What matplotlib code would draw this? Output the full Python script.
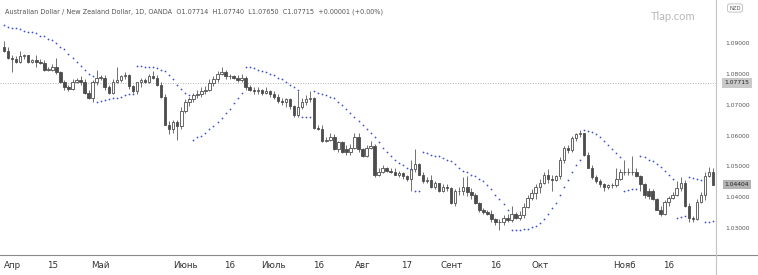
import matplotlib
matplotlib.use("Agg")
import matplotlib.pyplot as plt
import numpy as np
import pandas as pd


START_DATE = "2021-03-30"

open_ = [
    1.0887, 1.0874, 1.0854, 1.0851, 1.0841, 1.0858, 1.0861, 1.0841, 1.0845, 1.0841,
    1.0838, 1.0815, 1.0815, 1.0825, 1.0806, 1.0773, 1.0757, 1.0753, 1.0776, 1.0780,
    1.0776, 1.0740, 1.0724, 1.0773, 1.0789, 1.0789, 1.0757, 1.0740, 1.0776, 1.0780,
    1.0793, 1.0796, 1.0760, 1.0744, 1.0773, 1.0780, 1.0776, 1.0793, 1.0789, 1.0766,
    1.0727, 1.0636, 1.0620, 1.0643, 1.0630, 1.0679, 1.0708, 1.0718, 1.0731, 1.0737,
    1.0744, 1.0750, 1.0770, 1.0783, 1.0802, 1.0806, 1.0793, 1.0793, 1.0789, 1.0780,
    1.0786, 1.0757, 1.0750, 1.0744, 1.0747, 1.0740, 1.0744, 1.0734, 1.0727, 1.0714,
    1.0708, 1.0718, 1.0695, 1.0666, 1.0692, 1.0708, 1.0718, 1.0721, 1.0626, 1.0623,
    1.0584, 1.0587, 1.0597, 1.0555, 1.0578, 1.0555, 1.0545, 1.0561, 1.0597, 1.0555,
    1.0535, 1.0561, 1.0565, 1.0470, 1.0483, 1.0493, 1.0486, 1.0483, 1.0473, 1.0477,
    1.0467, 1.0457, 1.0490, 1.0506, 1.0473, 1.0451, 1.0454, 1.0431, 1.0444, 1.0421,
    1.0434, 1.0428, 1.0382, 1.0418, 1.0418, 1.0431, 1.0415, 1.0408, 1.0382, 1.0356,
    1.0350, 1.0346, 1.0327, 1.0317, 1.0317, 1.0333, 1.0324, 1.0343, 1.0333, 1.0340,
    1.0366, 1.0398, 1.0412, 1.0431, 1.0447, 1.0473, 1.0457, 1.0454, 1.0467, 1.0522,
    1.0558, 1.0552, 1.0591, 1.0604, 1.0607, 1.0538, 1.0496, 1.0464, 1.0451, 1.0441,
    1.0434, 1.0438, 1.0438, 1.0460, 1.0480, 1.0483, 1.0480, 1.0483, 1.0467, 1.0441,
    1.0421, 1.0418, 1.0392, 1.0359, 1.0343, 1.0385, 1.0398, 1.0408, 1.0428, 1.0447,
    1.0369, 1.0330, 1.0327, 1.0385, 1.0408, 1.0467, 1.0480,
]
high = [
    1.0907, 1.0887, 1.0861, 1.0858, 1.0874, 1.0867, 1.0864, 1.0851, 1.0864, 1.0848,
    1.0845, 1.0825, 1.0832, 1.0854, 1.0812, 1.0780, 1.0766, 1.0783, 1.0789, 1.0793,
    1.0783, 1.0747, 1.0780, 1.0815, 1.0799, 1.0796, 1.0766, 1.0783, 1.0825, 1.0799,
    1.0806, 1.0802, 1.0766, 1.0776, 1.0789, 1.0789, 1.0802, 1.0809, 1.0796, 1.0773,
    1.0734, 1.0646, 1.0652, 1.0652, 1.0692, 1.0718, 1.0727, 1.0740, 1.0747, 1.0757,
    1.0760, 1.0783, 1.0793, 1.0812, 1.0822, 1.0815, 1.0802, 1.0799, 1.0796, 1.0802,
    1.0793, 1.0766, 1.0757, 1.0757, 1.0753, 1.0757, 1.0750, 1.0744, 1.0734, 1.0724,
    1.0724, 1.0724, 1.0701, 1.0744, 1.0724, 1.0731, 1.0744, 1.0727, 1.0636, 1.0633,
    1.0594, 1.0607, 1.0604, 1.0584, 1.0581, 1.0568, 1.0571, 1.0607, 1.0610, 1.0561,
    1.0568, 1.0581, 1.0571, 1.0496, 1.0503, 1.0499, 1.0493, 1.0493, 1.0486, 1.0483,
    1.0473, 1.0522, 1.0555, 1.0512, 1.0483, 1.0464, 1.0470, 1.0451, 1.0447, 1.0441,
    1.0441, 1.0434, 1.0425, 1.0431, 1.0464, 1.0467, 1.0428, 1.0412, 1.0385, 1.0363,
    1.0359, 1.0356, 1.0333, 1.0327, 1.0340, 1.0343, 1.0369, 1.0350, 1.0353, 1.0379,
    1.0408, 1.0425, 1.0441, 1.0457, 1.0483, 1.0490, 1.0473, 1.0473, 1.0529, 1.0565,
    1.0568, 1.0600, 1.0610, 1.0617, 1.0610, 1.0545, 1.0503, 1.0470, 1.0457, 1.0447,
    1.0441, 1.0444, 1.0496, 1.0490, 1.0522, 1.0496, 1.0532, 1.0493, 1.0473, 1.0447,
    1.0428, 1.0425, 1.0398, 1.0369, 1.0389, 1.0402, 1.0415, 1.0451, 1.0464, 1.0454,
    1.0382, 1.0337, 1.0392, 1.0415, 1.0480, 1.0499, 1.0493,
]
low = [
    1.0871, 1.0851, 1.0806, 1.0835, 1.0838, 1.0851, 1.0838, 1.0835, 1.0825, 1.0832,
    1.0812, 1.0809, 1.0809, 1.0802, 1.0770, 1.0750, 1.0744, 1.0750, 1.0770, 1.0766,
    1.0734, 1.0718, 1.0711, 1.0766, 1.0780, 1.0750, 1.0737, 1.0734, 1.0770, 1.0773,
    1.0783, 1.0753, 1.0740, 1.0734, 1.0757, 1.0770, 1.0770, 1.0783, 1.0760, 1.0721,
    1.0633, 1.0604, 1.0610, 1.0587, 1.0623, 1.0672, 1.0698, 1.0708, 1.0721, 1.0727,
    1.0734, 1.0744, 1.0763, 1.0776, 1.0796, 1.0783, 1.0783, 1.0783, 1.0773, 1.0776,
    1.0750, 1.0744, 1.0734, 1.0737, 1.0731, 1.0734, 1.0727, 1.0718, 1.0705, 1.0701,
    1.0692, 1.0688, 1.0659, 1.0659, 1.0685, 1.0701, 1.0711, 1.0623, 1.0617, 1.0578,
    1.0578, 1.0581, 1.0552, 1.0548, 1.0542, 1.0538, 1.0538, 1.0555, 1.0548, 1.0529,
    1.0529, 1.0555, 1.0464, 1.0467, 1.0477, 1.0480, 1.0477, 1.0470, 1.0464, 1.0460,
    1.0451, 1.0418, 1.0483, 1.0470, 1.0447, 1.0444, 1.0428, 1.0425, 1.0415, 1.0415,
    1.0418, 1.0376, 1.0372, 1.0408, 1.0405, 1.0402, 1.0395, 1.0376, 1.0350, 1.0343,
    1.0340, 1.0320, 1.0310, 1.0291, 1.0310, 1.0317, 1.0317, 1.0327, 1.0324, 1.0333,
    1.0363, 1.0389, 1.0392, 1.0412, 1.0441, 1.0447, 1.0418, 1.0451, 1.0460, 1.0512,
    1.0542, 1.0545, 1.0584, 1.0594, 1.0532, 1.0493, 1.0460, 1.0447, 1.0434, 1.0421,
    1.0425, 1.0428, 1.0431, 1.0454, 1.0473, 1.0473, 1.0473, 1.0464, 1.0421, 1.0398,
    1.0395, 1.0389, 1.0356, 1.0337, 1.0340, 1.0369, 1.0392, 1.0402, 1.0421, 1.0366,
    1.0320, 1.0320, 1.0324, 1.0379, 1.0389, 1.0464, 1.0438,
]
close = [
    1.0874, 1.0854, 1.0851, 1.0841, 1.0858, 1.0861, 1.0841, 1.0845, 1.0841, 1.0838,
    1.0815, 1.0815, 1.0825, 1.0806, 1.0773, 1.0757, 1.0753, 1.0776, 1.0780, 1.0776,
    1.0740, 1.0724, 1.0773, 1.0789, 1.0789, 1.0757, 1.0740, 1.0776, 1.0780, 1.0793,
    1.0796, 1.0760, 1.0744, 1.0773, 1.0780, 1.0776, 1.0793, 1.0789, 1.0766, 1.0727,
    1.0636, 1.0620, 1.0643, 1.0630, 1.0679, 1.0708, 1.0718, 1.0731, 1.0737, 1.0744,
    1.0750, 1.0770, 1.0783, 1.0802, 1.0806, 1.0793, 1.0793, 1.0789, 1.0780, 1.0786,
    1.0757, 1.0750, 1.0744, 1.0747, 1.0740, 1.0744, 1.0734, 1.0727, 1.0714, 1.0708,
    1.0718, 1.0695, 1.0666, 1.0692, 1.0708, 1.0718, 1.0721, 1.0626, 1.0623, 1.0584,
    1.0587, 1.0597, 1.0555, 1.0578, 1.0548, 1.0545, 1.0561, 1.0597, 1.0555, 1.0535,
    1.0561, 1.0565, 1.0470, 1.0483, 1.0493, 1.0486, 1.0483, 1.0473, 1.0477, 1.0467,
    1.0457, 1.0490, 1.0506, 1.0473, 1.0451, 1.0454, 1.0431, 1.0444, 1.0421, 1.0434,
    1.0428, 1.0382, 1.0418, 1.0418, 1.0431, 1.0415, 1.0408, 1.0382, 1.0356, 1.0350,
    1.0346, 1.0327, 1.0317, 1.0317, 1.0333, 1.0324, 1.0343, 1.0333, 1.0340, 1.0366,
    1.0398, 1.0412, 1.0431, 1.0447, 1.0473, 1.0457, 1.0454, 1.0467, 1.0522, 1.0558,
    1.0552, 1.0591, 1.0604, 1.0607, 1.0538, 1.0496, 1.0464, 1.0451, 1.0441, 1.0434,
    1.0438, 1.0438, 1.0460, 1.0480, 1.0483, 1.0480, 1.0483, 1.0467, 1.0441, 1.0405,
    1.0402, 1.0392, 1.0359, 1.0343, 1.0385, 1.0398, 1.0408, 1.0428, 1.0447, 1.0369,
    1.0330, 1.0327, 1.0385, 1.0408, 1.0467, 1.0480, 1.04404,
]
sar = [
    1.0959, 1.0955, 1.0952, 1.0949, 1.0946, 1.0942, 1.0939, 1.0936, 1.0933, 1.0926,
    1.0923, 1.0916, 1.0910, 1.0900, 1.0890, 1.0881, 1.0867, 1.0854, 1.0841, 1.0828,
    1.0815, 1.0802, 1.0793, 1.0711, 1.0714, 1.0716, 1.0718, 1.0721, 1.0724, 1.0727,
    1.0731, 1.0734, 1.0737, 1.0828, 1.0827, 1.0825, 1.0823, 1.0822, 1.0819, 1.0815,
    1.0809, 1.0799, 1.0783, 1.0766, 1.0753, 1.0740, 1.0731, 1.0587, 1.0594, 1.0600,
    1.0610, 1.0620, 1.0630, 1.0643, 1.0656, 1.0672, 1.0688, 1.0705, 1.0724, 1.0740,
    1.0825, 1.0822, 1.0819, 1.0815, 1.0812, 1.0806, 1.0802, 1.0796, 1.0789, 1.0783,
    1.0776, 1.0766, 1.0757, 1.0747, 1.0659, 1.0661, 1.0662, 1.0744, 1.0740, 1.0737,
    1.0731, 1.0727, 1.0721, 1.0711, 1.0701, 1.0688, 1.0675, 1.0659, 1.0646, 1.0633,
    1.0620, 1.0607, 1.0594, 1.0578, 1.0561, 1.0545, 1.0532, 1.0522, 1.0512, 1.0503,
    1.0496, 1.0490, 1.0418, 1.0420, 1.0545, 1.0542, 1.0538, 1.0535, 1.0532, 1.0527,
    1.0522, 1.0516, 1.0506, 1.0496, 1.0486, 1.0480, 1.0473, 1.0467, 1.0460, 1.0451,
    1.0438, 1.0425, 1.0408, 1.0392, 1.0376, 1.0359, 1.0291, 1.0293, 1.0294, 1.0296,
    1.0297, 1.0301, 1.0304, 1.0314, 1.0327, 1.0343, 1.0363, 1.0382, 1.0405, 1.0431,
    1.0454, 1.0480, 1.0503, 1.0522, 1.0617, 1.0615, 1.0612, 1.0604, 1.0594, 1.0581,
    1.0568, 1.0555, 1.0542, 1.0529, 1.0421, 1.0423, 1.0425, 1.0426, 1.0532, 1.0529,
    1.0522, 1.0516, 1.0509, 1.0499, 1.0486, 1.0473, 1.0460, 1.0333, 1.0335, 1.0337,
    1.0464, 1.0462, 1.0459, 1.0454, 1.0320, 1.0320, 1.0322,
]

tick_dates = [
    "2021-04-01", "2021-04-15", "2021-05-03", "2021-06-01", "2021-06-16",
    "2021-07-01", "2021-07-16", "2021-08-02", "2021-08-17", "2021-09-01",
    "2021-09-16", "2021-10-01", "2021-11-01", "2021-11-16",
]
tick_labels = [
    "Апр", "15", "Май", "Июнь", "16", "Июль", "16", "Авг", "17",
    "Сент", "16", "Окт", "Нояб", "16",
]
price_ticks = [1.03, 1.04, 1.05, 1.06, 1.07, 1.08, 1.09]
hover_price = 1.07715
last_price = 1.04404

HEADER = ("Australian Dollar / New Zealand Dollar, 1D, OANDA  O1.07714  H1.07740  "
          "L1.07650  C1.07715  +0.00001 (+0.00%)")

DARK = "#4d4d4d"
WICK = "#5a5a5a"
SAR_COLOR = "#3f51d9"

W, H = 758, 275
PLOT_RIGHT = 716
PLOT_BOTTOM = 255

o = np.array(open_)
h = np.array(high)
lo = np.array(low)
c = np.array(close)
x = np.arange(len(c))
dates = pd.bdate_range(START_DATE, periods=len(c))
up = c >= o

fig = plt.figure(figsize=(W / 100, H / 100), dpi=100)
fig.patch.set_facecolor("white")
ax = fig.add_axes([0, (H - PLOT_BOTTOM) / H, PLOT_RIGHT / W, PLOT_BOTTOM / H])
ax.set_facecolor("white")

# candles
ax.vlines(x, lo, h, color=WICK, linewidth=0.6, zorder=1)
body_bottom = np.minimum(o, c)
body_height = np.maximum(np.abs(c - o), 0.00007)
ax.bar(x[up], body_height[up], bottom=body_bottom[up], width=0.62,
       color="white", edgecolor=DARK, linewidth=0.6, zorder=2)
ax.bar(x[~up], body_height[~up], bottom=body_bottom[~up], width=0.62,
       color=DARK, edgecolor=DARK, linewidth=0.6, zorder=2)

# parabolic SAR
ax.scatter(x, sar, s=1.6, color=SAR_COLOR, linewidths=0, zorder=3)

# crosshair
ax.axhline(hover_price, color="#9a9a9a", linewidth=0.6, linestyle=(0, (1, 2)), zorder=0)

ax.set_xlim(-1, len(c) - 1 + 0.75)
ax.set_ylim(1.0211, 1.10417)

tick_pos = dates.searchsorted(pd.to_datetime(tick_dates))
ax.set_xticks(tick_pos)
ax.set_xticklabels(tick_labels)
ax.tick_params(axis="x", length=0, pad=4, labelsize=6.3, labelcolor="#333333")

ax.yaxis.tick_right()
ax.set_yticks(price_ticks)
ax.set_yticklabels([f"{v:.5f}" for v in price_ticks])
ax.tick_params(axis="y", length=0, pad=7, labelsize=4.3, labelcolor="#555555")

for side in ["top", "left", "right", "bottom"]:
    ax.spines[side].set_visible(False)

# axis separators
fig.add_artist(plt.Line2D([0, 1], [(H - PLOT_BOTTOM) / H] * 2, color="#8a8a8a", linewidth=0.8))
fig.add_artist(plt.Line2D([PLOT_RIGHT / W] * 2, [0, 1], color="#c4c4c4", linewidth=0.8))

# price labels on the scale
yt = ax.get_yaxis_transform()
ax.text(1.0293, hover_price, f"{hover_price:.5f}", transform=yt, ha="center", va="center",
        fontsize=4.3, color="#222222", clip_on=False,
        bbox=dict(boxstyle="square,pad=0.35", facecolor="#c9c9c9", edgecolor="none"))
ax.text(1.0293, last_price, f"{last_price:.5f}", transform=yt, ha="center", va="center",
        fontsize=4.3, color="#222222", clip_on=False,
        bbox=dict(boxstyle="square,pad=0.35", facecolor="#b3b3b3", edgecolor="none"))

# header, watermark, currency badge
fig.text(5 / W, 1 - 12 / H, HEADER, fontsize=4.7, color="#555555", va="center")
fig.text(673 / W, 1 - 16 / H, "Tlap.com", fontsize=8, color="#b8b8b8",
         ha="center", va="center", family="Lato")
fig.text(735 / W, 1 - 8 / H, "NZD", fontsize=3.8, color="#555555", ha="center", va="center",
         bbox=dict(boxstyle="round,pad=0.3", facecolor="white", edgecolor="#b0b0b0", linewidth=0.5))

fig.savefig("out.png", dpi=100, facecolor="white")
